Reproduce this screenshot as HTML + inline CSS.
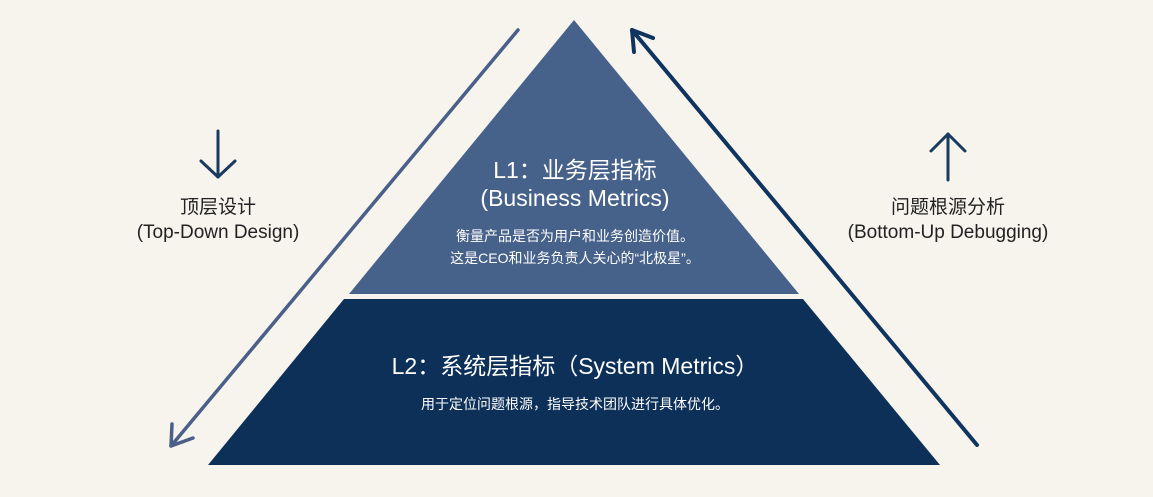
<!DOCTYPE html>
<html><head><meta charset="utf-8"><style>
html,body{margin:0;padding:0;background:#f7f4ee;}
svg{display:block;}
text{font-family:"Liberation Sans","Noto Sans CJK SC",sans-serif;}
</style></head><body>
<svg width="1153" height="497" viewBox="0 0 1153 497">
<rect width="1153" height="497" fill="#f7f4ee"/>
<polygon points="574,20 799,294 349,294" fill="#46618a"/>
<polygon points="344,299 803,299 940,465 208,465" fill="#0d3059"/>
<!-- left arrow -->
<line x1="518" y1="30" x2="171" y2="446" stroke="#4a6088" stroke-width="3.5" stroke-linecap="round"/>
<polyline points="172,424 171,446 193,438" fill="none" stroke="#4a6088" stroke-width="3.5" stroke-linecap="round" stroke-linejoin="round"/>
<!-- right arrow -->
<line x1="977" y1="445" x2="632" y2="30" stroke="#0f3460" stroke-width="4" stroke-linecap="round"/>
<polyline points="634,52 632,30 653,38" fill="none" stroke="#0f3460" stroke-width="4" stroke-linecap="round" stroke-linejoin="round"/>
<!-- small arrows -->
<g stroke="#1a3a5e" stroke-width="3" fill="none" stroke-linecap="round" stroke-linejoin="round">
<line x1="218" y1="131" x2="218" y2="177"/><polyline points="201,161 218,177 235,161"/>
<line x1="948" y1="180" x2="948" y2="134"/><polyline points="931,151 948,134 965,151"/>
</g>
<g fill="#222" font-size="19" text-anchor="middle">
<text x="218" y="213">顶层设计</text>
<text x="218" y="238">(Top-Down Design)</text>
<text x="948" y="213">问题根源分析</text>
<text x="948" y="238">(Bottom-Up Debugging)</text>
</g>
<g fill="#ffffff" text-anchor="middle">
<text x="575" y="178" font-size="23">L1：业务层指标</text>
<text x="575" y="206" font-size="23">(Business Metrics)</text>
<text x="575" y="241" font-size="14">衡量产品是否为用户和业务创造价值。</text>
<text x="575" y="263" font-size="14">这是CEO和业务负责人关心的“北极星”。</text>
<text x="575" y="374" font-size="23">L2：系统层指标（System Metrics）</text>
<text x="575" y="409" font-size="14">用于定位问题根源，指导技术团队进行具体优化。</text>
</g>
</svg>
</body></html>
